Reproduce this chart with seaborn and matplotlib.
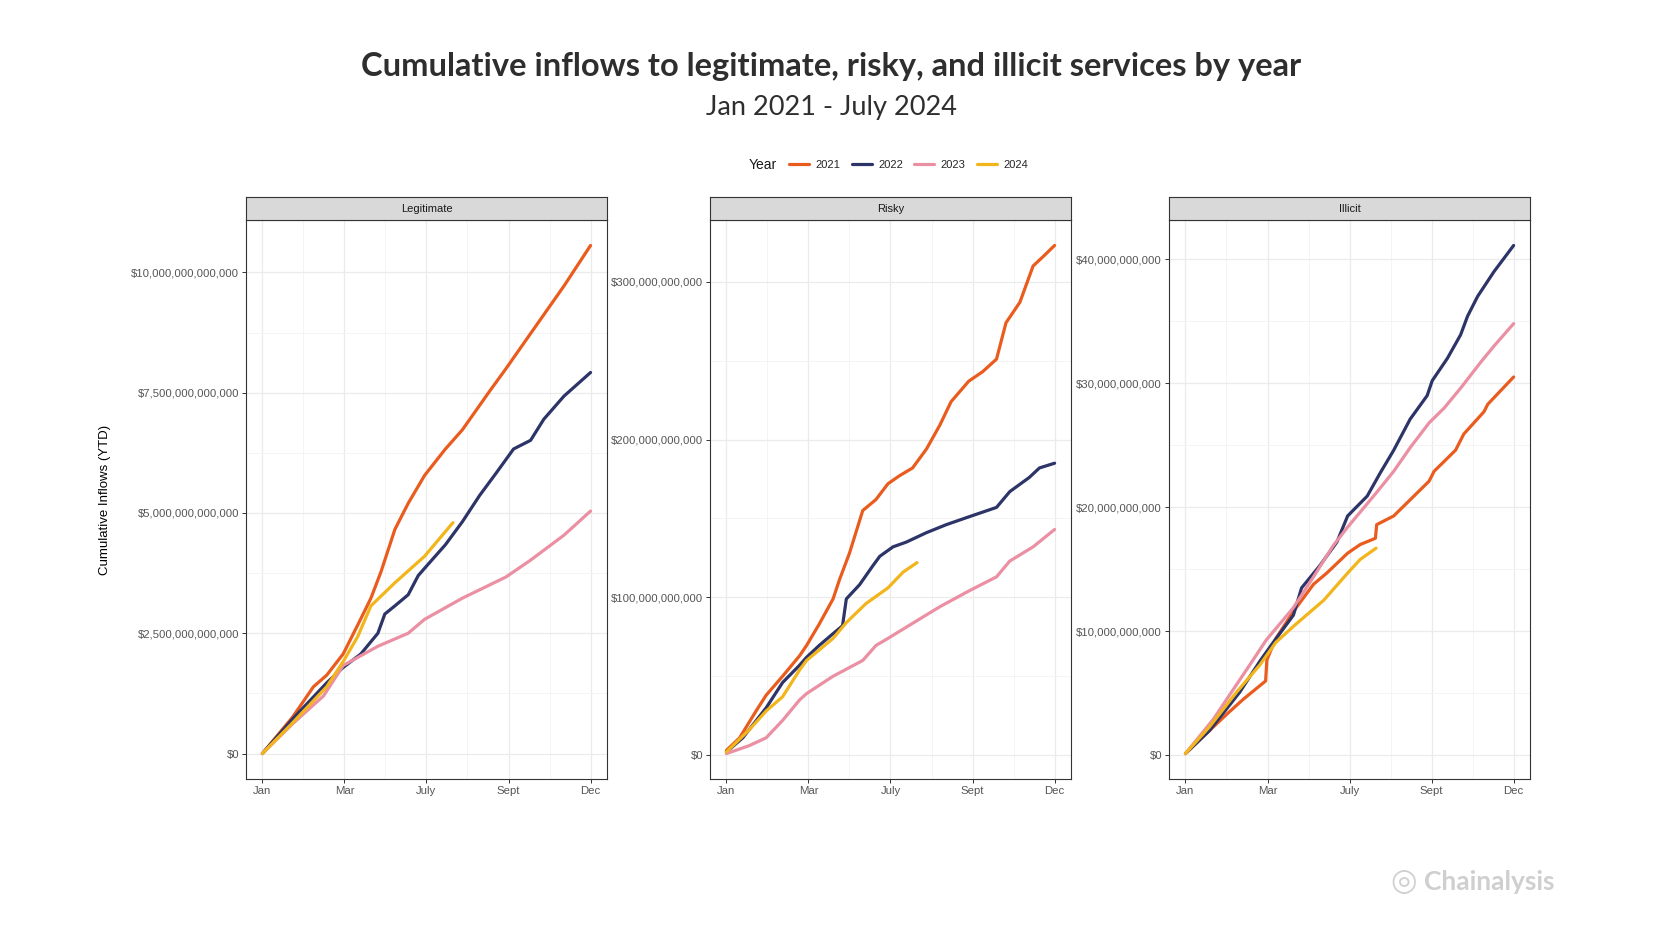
import numpy as np
import pandas as pd
import matplotlib
matplotlib.use("Agg")
import matplotlib.pyplot as plt
from matplotlib.lines import Line2D
from matplotlib.ticker import FuncFormatter, MultipleLocator
import seaborn as sns

# --- data (weeks since Jan 1, cumulative USD) ---
years = ["2021", "2022", "2023", "2024"]
colors = {"2021": "#EA5B1E", "2022": "#2C3468", "2023": "#EB8FA3", "2024": "#F2B51C"}
month_ticks = [0, 13, 26, 39, 52]
month_labels = ["Jan", "Mar", "July", "Sept", "Dec"]

# Legitimate, trillions
leg_2021_wk = [0, 4.8, 8.1, 10.2, 12.8, 15.1, 17.2, 18.8, 21.0, 23.1, 25.7, 29.0, 31.7, 36.0, 38.6, 42.5, 47.8, 52.0]
leg_2021_val = [0, 0.76, 1.39, 1.63, 2.07, 2.67, 3.23, 3.78, 4.66, 5.2, 5.78, 6.33, 6.73, 7.53, 8.0, 8.73, 9.72, 10.56]
leg_2022_wk = [0, 4.8, 10.2, 12.8, 15.6, 18.3, 19.4, 21.0, 23.1, 24.7, 26.3, 29.0, 31.7, 34.4, 37.1, 39.8, 42.5, 44.6, 47.8, 52.0]
leg_2022_val = [0, 0.72, 1.47, 1.79, 2.07, 2.5, 2.9, 3.07, 3.3, 3.7, 3.94, 4.34, 4.82, 5.36, 5.84, 6.33, 6.51, 6.95, 7.43, 7.92]
leg_2023_wk = [0, 4.8, 9.7, 12.8, 18.3, 23.1, 25.7, 31.7, 38.6, 42.5, 47.8, 52.0]
leg_2023_val = [0, 0.62, 1.2, 1.83, 2.23, 2.5, 2.79, 3.23, 3.67, 4.02, 4.54, 5.04]
leg_2024_wk = [0, 4.8, 10.2, 12.8, 15.1, 17.2, 21.0, 25.7, 30.2]
leg_2024_val = [0, 0.64, 1.39, 1.91, 2.43, 3.07, 3.55, 4.1, 4.8]

# Risky, billions
risky_2021_wk = [0, 2.1, 4.7, 6.3, 8.9, 11.6, 12.7, 14.7, 16.9, 17.9, 19.5, 21.6, 23.7, 25.6, 27.4, 29.5, 31.7,
                 33.8, 35.6, 38.4, 40.6, 42.8, 44.3, 46.5, 48.6, 50.2, 52.0]
risky_2021_val = [3, 11, 28, 38, 50, 63, 69.5, 83, 99, 111, 128, 155, 162, 172, 177, 182, 194,
                  209, 224, 237, 243, 251, 274, 287, 310, 316, 323]
risky_2022_wk = [0, 2.6, 6.3, 8.9, 11.6, 12.7, 14.7, 16.9, 18.4, 19.0, 21.1, 23.2, 24.3, 26.4, 28.5, 31.7,
                 34.8, 38.4, 42.8, 44.9, 48.0, 49.6, 52.0]
risky_2022_val = [2, 11, 30, 46, 57, 62, 69.5, 77, 82, 99, 108, 120, 126, 132, 135, 141,
                  146, 151, 157, 167, 176, 182, 185]
risky_2023_wk = [0, 3.6, 6.3, 8.9, 11.6, 12.7, 16.9, 21.6, 23.7, 25.6, 30.1, 33.8, 38.4, 42.8, 44.9, 48.6, 52.0]
risky_2023_val = [1, 6, 11, 22, 35, 39, 50, 60, 69.5, 74, 85, 94, 104, 113, 123, 132, 143]
risky_2024_wk = [0, 3.6, 6.3, 8.9, 11.6, 12.7, 16.9, 19.0, 22.1, 25.6, 28.0, 30.2]
risky_2024_val = [2, 16, 28, 37, 54, 60, 74, 84, 96, 106, 116, 122]

# Illicit, billions
illicit_2021_wk = [0, 3.8, 6.5, 9.1, 12.7, 12.9, 14.3, 17.1, 20.3, 22.4, 25.7, 27.7, 30.1, 30.3, 33.0, 35.6,
                   38.6, 39.4, 42.8, 44.1, 47.3, 47.9, 52.0]
illicit_2021_val = [0.15, 2.0, 3.3, 4.5, 6.0, 7.7, 9.4, 11.6, 13.8, 14.7, 16.3, 17.0, 17.5, 18.6, 19.3, 20.6,
                    22.1, 22.9, 24.6, 25.9, 27.7, 28.3, 30.5]
illicit_2022_wk = [0, 3.8, 8.6, 11.8, 13.9, 17.1, 18.4, 21.3, 24.0, 25.7, 28.8, 30.9, 33.0, 35.6, 38.3, 39.1,
                   41.5, 43.6, 44.7, 46.3, 48.9, 52.0]
illicit_2022_val = [0.15, 2.0, 5.1, 7.6, 9.1, 11.3, 13.5, 15.3, 17.2, 19.3, 20.9, 22.8, 24.6, 27.1, 29.0, 30.2,
                    32.0, 33.9, 35.4, 37.0, 39.0, 41.1]
illicit_2023_wk = [0, 4.4, 6.5, 10.2, 12.8, 17.1, 20.3, 23.4, 25.7, 30.3, 33.0, 35.6, 38.6, 41.0, 43.6, 46.8, 48.9, 52.0]
illicit_2023_val = [0.15, 2.9, 4.5, 7.3, 9.3, 11.9, 14.4, 16.9, 18.4, 21.2, 22.9, 24.8, 26.8, 28.0, 29.6, 31.7, 33.0, 34.8]
illicit_2024_wk = [0, 3.8, 8.1, 11.8, 14.3, 17.1, 21.9, 25.7, 27.7, 30.2]
illicit_2024_val = [0.15, 2.3, 5.1, 7.3, 9.1, 10.4, 12.5, 14.7, 15.8, 16.7]

panels = [
    ("Legitimate", 1e12, [(leg_2021_wk, leg_2021_val), (leg_2022_wk, leg_2022_val),
                          (leg_2023_wk, leg_2023_val), (leg_2024_wk, leg_2024_val)]),
    ("Risky", 1e9, [(risky_2021_wk, risky_2021_val), (risky_2022_wk, risky_2022_val),
                    (risky_2023_wk, risky_2023_val), (risky_2024_wk, risky_2024_val)]),
    ("Illicit", 1e9, [(illicit_2021_wk, illicit_2021_val), (illicit_2022_wk, illicit_2022_val),
                      (illicit_2023_wk, illicit_2023_val), (illicit_2024_wk, illicit_2024_val)]),
]
y_steps = {"Legitimate": 2.5e12, "Risky": 100e9, "Illicit": 10e9}

sns.set_theme(style="white")
plt.rcParams["font.family"] = ["Liberation Sans", "DejaVu Sans"]

fig = plt.figure(figsize=(16.62, 9.32), dpi=100)
fig.patch.set_facecolor("white")

lefts = [0.1480, 0.4272, 0.7034]
width = 0.2172
bottom, height = 0.1642, 0.5997
strip_h = 0.0247

for (name, scale, series), left in zip(panels, lefts):
    rows = []
    for yr, (wk, val) in zip(years, series):
        for w, v in zip(wk, val):
            rows.append({"week": w, "value": v * scale, "Year": yr})
    df = pd.DataFrame(rows)

    ax = fig.add_axes([left, bottom, width, height])
    sns.lineplot(data=df, x="week", y="value", hue="Year", palette=colors, sort=False,
                 estimator=None, linewidth=2.3, ax=ax, legend=False)
    ax.margins(x=0.05, y=0.05)
    ax.set_xlabel("")
    ax.set_ylabel("")
    ax.set_xticks(month_ticks)
    ax.set_xticklabels(month_labels)
    ax.xaxis.set_minor_locator(MultipleLocator(6.5))
    ax.yaxis.set_major_locator(MultipleLocator(y_steps[name]))
    ax.yaxis.set_minor_locator(MultipleLocator(y_steps[name] / 2))
    ax.yaxis.set_major_formatter(FuncFormatter(lambda v, p: f"${v:,.0f}"))
    ax.grid(True, which="major", color="#EBEBEB", linewidth=0.9)
    ax.grid(True, which="minor", color="#F3F3F3", linewidth=0.6)
    ax.set_axisbelow(True)
    ax.tick_params(axis="both", which="major", labelsize=8.2, labelcolor="#555555",
                   length=3, width=0.7, color="#333333", direction="out", pad=2,
                   bottom=True, left=True)
    ax.tick_params(axis="both", which="minor", length=0)
    for s in ax.spines.values():
        s.set_color("#333333")
        s.set_linewidth(0.8)

    sax = fig.add_axes([left, bottom + height, width, strip_h])
    sax.set_facecolor("#D9D9D9")
    sax.set_xticks([])
    sax.set_yticks([])
    for s in sax.spines.values():
        s.set_color("#333333")
        s.set_linewidth(0.8)
    sax.text(0.5, 0.5, name, ha="center", va="center", fontsize=8, color="#1A1A1A",
             transform=sax.transAxes)

fig.text(0.063, 0.4635, "Cumulative Inflows (YTD)", rotation=90, ha="center", va="center",
         fontsize=9.5, color="black")

fig.text(0.5, 0.929, "Cumulative inflows to legitimate, risky, and illicit services by year",
         ha="center", va="center", fontsize=23.5, fontweight="bold", color="#2E2E2E", family="Lato")
fig.text(0.5, 0.885, "Jan 2021 - July 2024", ha="center", va="center", fontsize=19.5,
         color="#2E2E2E", family="Lato")

fig.text(0.4507, 0.823, "Year", ha="left", va="center", fontsize=10, color="#1A1A1A")
handles = [Line2D([0], [0], color=colors[y], lw=2.3) for y in years]
fig.legend(handles, years, loc="center left", bbox_to_anchor=(0.4747, 0.823), ncol=4,
           frameon=False, fontsize=8, handlelength=1.8, handletextpad=0.6,
           columnspacing=1.0, borderpad=0, borderaxespad=0)

fig.text(0.8365, 0.054, "\u25CE", ha="left", va="center", fontsize=22, color="#D0D0D0",
         fontweight="bold", family="DejaVu Sans")
fig.text(0.857, 0.054, "Chainalysis", ha="left", va="center", fontsize=19, color="#CFCFCF",
         fontweight="bold", family="Lato")

fig.savefig("out.png", dpi=100, facecolor="white")
